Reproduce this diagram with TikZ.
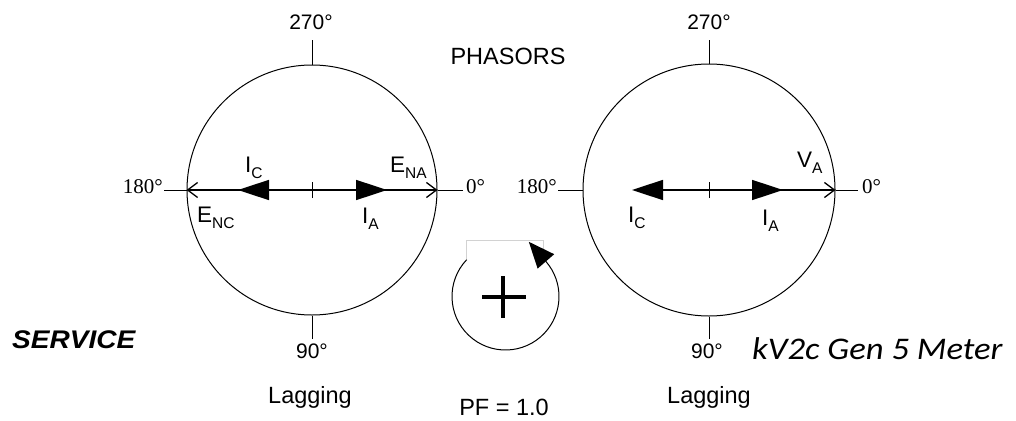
\documentclass[tikz,border=0pt]{standalone}
\usepackage{fontspec}
\setmainfont{Liberation Sans}
\newfontfamily\serifnum{Liberation Serif}
\newfontfamily\meterfont{Carlito}
\usetikzlibrary{arrows.meta}
\newcommand\lsub[1]{\raisebox{-6pt}{\fontsize{15.5}{15}\selectfont #1}}
\begin{document}
\begin{tikzpicture}[x=1pt,y=-1pt,
  lbl/.style={inner sep=0pt, anchor=base west, font=\fontsize{22.5}{24}\selectfont},
  txt/.style={inner sep=0pt, anchor=base, font=\fontsize{21}{24}\selectfont},
  big/.style={inner sep=0pt, anchor=base, font=\fontsize{23.5}{26}\selectfont},
  deg/.style={inner sep=0pt, font=\serifnum\fontsize{21}{24}\selectfont},
  ring/.style={draw, circle, line width=1pt, inner sep=0pt},
  axis/.style={line width=1pt},
  phasor/.style={line width=1.6pt, -{Triangle[length=31pt,width=20pt]}},
  openarr/.style={line width=1.3pt, -{Straight Barb[length=10pt,width=15pt]}},
]
\useasboundingbox (0,0) rectangle (1016,420);

% ---------- left diagram ----------
\node[ring, minimum size=250pt] (Lc) at (312,190) {};
\node[deg, anchor=base east] (L180) at (163,193) {180°};
\node[deg, anchor=base west] (L0) at (466,193) {0°};
\node[txt] (L270) at (311,30) {270°};
\node[txt] (L90) at (312,358) {90°};
\node[big] (Llag) at (310,403) {Lagging};
\coordinate (LWo) at (164,190);
\coordinate (LEo) at (463,190);
\coordinate (LNo) at (312,40);
\coordinate (LSo) at (312,339);
\draw[axis] (LWo) -- (Lc.west);
\draw[axis] (Lc.east) -- (LEo);
\draw[axis] (Lc.north) -- (LNo);
\draw[axis] (Lc.south) -- (LSo);
\draw[openarr] (Lc.center) -- (Lc.west);
\draw[openarr] (Lc.center) -- (Lc.east);
\coordinate (LIC) at (238,190);
\coordinate (LIA) at (387,190);
\draw[phasor] (Lc.center) -- (LIC);
\draw[phasor] (Lc.center) -- (LIA);
\draw[axis] ([yshift=-8pt]Lc.center) -- ([yshift=8pt]Lc.center);
\node[lbl] (LlIC) at (245,172) {I\lsub{C}};
\node[lbl] (LlENA) at (390,172) {E\lsub{NA}};
\node[lbl] (LlENC) at (197,222) {E\lsub{NC}};
\node[lbl] (LlIA) at (362,223) {I\lsub{A}};

% ---------- right diagram ----------
\node[ring, minimum size=252pt] (Rc) at (709,190) {};
\node[deg, anchor=base east] (R180) at (557,193) {180°};
\node[deg, anchor=base west] (R0) at (862,193) {0°};
\node[txt] (R270) at (709,30) {270°};
\node[txt] (R90) at (707,358) {90°};
\node[big] (Rlag) at (709,403) {Lagging};
\coordinate (RWo) at (558,190);
\coordinate (REo) at (858,190);
\coordinate (RNo) at (709,40);
\coordinate (RSo) at (709,339);
\draw[axis] (RWo) -- (Rc.west);
\draw[axis] (Rc.east) -- (REo);
\draw[axis] (Rc.north) -- (RNo);
\draw[axis] (Rc.south) -- (RSo);
\draw[openarr] (Rc.center) -- (Rc.east);
\coordinate (RIC) at (632,190);
\coordinate (RIA) at (783,190);
\draw[phasor] (Rc.center) -- (RIC);
\draw[phasor] (Rc.center) -- (RIA);
\draw[axis] ([yshift=-8pt]Rc.center) -- ([yshift=8pt]Rc.center);
\node[lbl] (RlVA) at (797,167) {V\lsub{A}};
\node[lbl] (RlIC) at (628,222) {I\lsub{C}};
\node[lbl] (RlIA) at (762,225) {I\lsub{A}};

% ---------- middle ----------
\node[big] (phasors) at (508,64) {PHASORS};
\node[big] (pf) at (504,415) {PF = 1.0};
\draw[gray!35, line width=0.8pt] (466,259) -- (466,240) -- (543,240) -- (543,250);
\coordinate (rot) at (505.5,296.5);
\draw[line width=1pt] ([shift={(-136.5:53.5)}]rot) arc[start angle=-136.5, end angle=-401, radius=53.5];
\fill (528.8,241.8) -- (554.2,254.2) -- (537.6,268.6) -- cycle;
\draw[line width=4pt] (482,297) -- (526,297);
\draw[line width=4pt] (503,276) -- (503,318);

% ---------- titles ----------
\node[inner sep=0pt, anchor=base west, font=\bfseries\itshape\fontsize{25.5}{28}\selectfont] (service) at (12,348) {\scalebox{1.1}[1]{SERVICE}};
\node[inner sep=0pt, anchor=base west, font=\meterfont\itshape\fontsize{31.5}{34}\selectfont] (meter) at (752,359) {\scalebox{1.1}[1]{kV2c Gen 5 Meter}};
\end{tikzpicture}
\end{document}
